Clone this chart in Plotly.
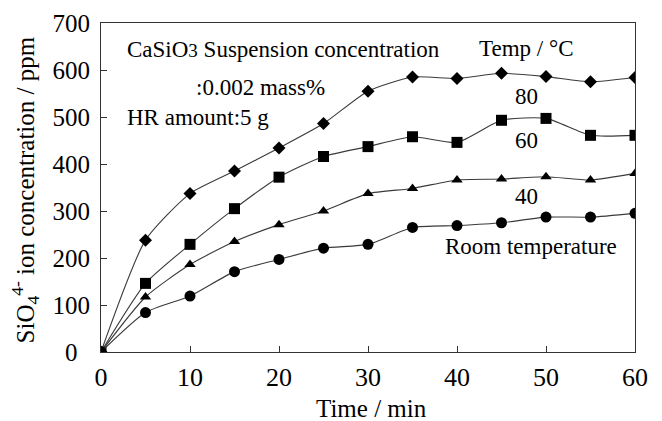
import plotly.graph_objects as go

time_min = [0, 5, 10, 15, 20, 25, 30, 35, 40, 45, 50, 55, 60]
temp_80 = [0, 238, 337, 385, 434, 486, 555, 585, 582, 593, 586, 575, 584]
temp_60 = [0, 146, 229, 305, 372, 416, 437, 458, 446, 493, 497, 461, 461]
temp_40 = [0, 117, 186, 235, 271, 300, 337, 348, 366, 368, 373, 366, 380]
temp_rt = [0, 84, 119, 171, 197, 221, 229, 265, 269, 275, 287, 287, 295]

x_ticks = [0, 10, 20, 30, 40, 50, 60]
y_ticks = [0, 100, 200, 300, 400, 500, 600, 700]

FONT = "Liberation Serif"
LINE = "#3a3a3a"

series = [
    ("80", temp_80, "diamond", 10),
    ("60", temp_60, "square", 11),
    ("40", temp_40, "triangle-up", 10),
    ("Room temperature", temp_rt, "circle", 11),
]

fig = go.Figure()
for name, vals, sym, sz in series:
    fig.add_trace(go.Scatter(
        x=time_min, y=vals, name=name, mode="lines+markers",
        line=dict(color=LINE, width=1.1, shape="spline", smoothing=0.6),
        marker=dict(symbol=sym, size=sz, color="black"),
        showlegend=False,
    ))

annos = [
    dict(x=2.64, y=643, text='CaSiO<span style="font-size:19px">3</span> Suspension concentration', xanchor="left"),
    dict(x=17.9, y=562, text=":0.002 mass%", xanchor="center"),
    dict(x=2.72, y=498, text="HR amount:5 g", xanchor="left"),
    dict(x=47.8, y=645, text="Temp / °C", xanchor="center"),
    dict(x=47.8, y=543, text="80", xanchor="center"),
    dict(x=47.8, y=451, text="60", xanchor="center"),
    dict(x=47.8, y=330, text="40", xanchor="center"),
    dict(x=48.3, y=224, text="Room temperature", xanchor="center"),
]
for a in annos:
    fig.add_annotation(x=a["x"], y=a["y"], text=a["text"], xanchor=a["xanchor"],
                       yanchor="middle", showarrow=False,
                       font=dict(family=FONT, size=23, color="black"))

# axis titles as annotations (exact placement)
fig.add_annotation(xref="paper", yref="paper", x=0.5065, y=-0.171,
                   text="Time / min", showarrow=False, xanchor="center", yanchor="middle",
                   font=dict(family=FONT, size=25, color="black"))
fig.add_annotation(xref="paper", yref="paper", x=-0.1405, y=0.494, textangle=-90,
                   text="SiO<sub>4</sub><sup>4-</sup> ion concentration / ppm",
                   showarrow=False, xanchor="center", yanchor="middle",
                   font=dict(family=FONT, size=25, color="black"))

y_text = [str(v) for v in y_ticks]
y_text[0] = y_text[0] + "\u00a0\u00a0"

# page body has an 8px margin; figure fills the rest of the window
fig.update_layout(
    width=654, height=413,
    margin=dict(l=93, r=27, t=15, b=69),
    paper_bgcolor="white", plot_bgcolor="white",
    font=dict(family=FONT, size=24, color="black"),
)
fig.update_xaxes(
    range=[0, 60], tickvals=x_ticks, ticktext=[str(v) for v in x_ticks],
    ticks="inside", ticklen=6, tickcolor="#333", showgrid=False, zeroline=False,
    showline=True, linecolor="#333", linewidth=1.2, mirror=True, automargin=False,
    tickfont=dict(family=FONT, size=26), ticklabelstandoff=2,
)
fig.update_yaxes(
    range=[0, 700], tickvals=y_ticks, ticktext=y_text,
    ticks="inside", ticklen=6, tickcolor="#333", showgrid=False, zeroline=False,
    showline=True, linecolor="#333", linewidth=1.2, mirror=True, automargin=False,
    tickfont=dict(family=FONT, size=25), ticklabelstandoff=5,
)

fig.write_html("out.html")
